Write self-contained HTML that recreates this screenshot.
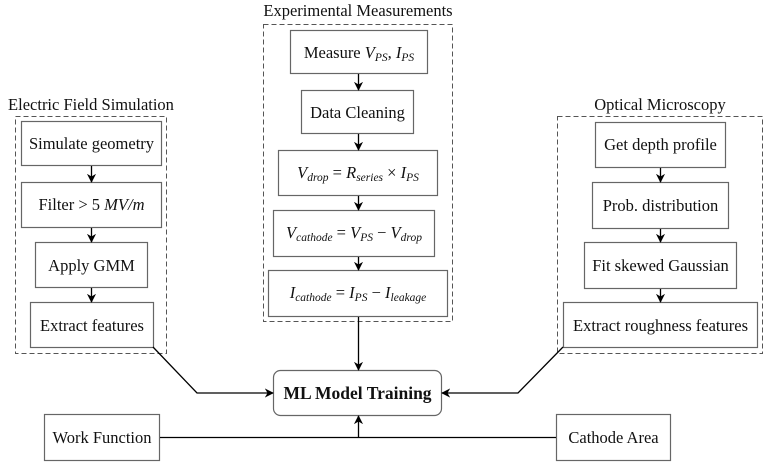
<!DOCTYPE html>
<html><head><style>body{margin:0;background:#fff}svg{display:block}text{font-family:"Liberation Serif",serif;font-size:16.5px;fill:#111}</style></head><body>
<svg width="768" height="467" viewBox="0 0 768 467" xmlns="http://www.w3.org/2000/svg">
<defs><marker id="a" viewBox="0 0 10 10" refX="9" refY="5" markerWidth="7" markerHeight="7" orient="auto"><path d="M0,0 L10,5 L0,10 L3,5z" fill="#000"/></marker></defs>
<g fill="none" stroke="#555" stroke-dasharray="5,3" stroke-width="1">
<rect x="15.5" y="116.5" width="151" height="237"/>
<rect x="263.5" y="24.5" width="189" height="297"/>
<rect x="557.5" y="116.5" width="205" height="237"/>
</g>
<text x="91" y="110" text-anchor="middle">Electric Field Simulation</text>
<text x="358" y="16" text-anchor="middle">Experimental Measurements</text>
<text x="660" y="110" text-anchor="middle">Optical Microscopy</text>
<g fill="#fff" stroke="#666" stroke-width="1.2">
<rect x="21.5" y="121.5" width="140" height="44"/>
<rect x="21.5" y="182.5" width="140" height="45"/>
<rect x="35.5" y="242.5" width="112" height="45"/>
<rect x="30.5" y="302.5" width="123" height="45"/>
<rect x="290.5" y="30.5" width="137" height="43"/>
<rect x="301.5" y="90.5" width="112" height="43"/>
<rect x="278.5" y="150.5" width="159" height="45"/>
<rect x="273.5" y="210.5" width="161" height="46"/>
<rect x="268.5" y="270.5" width="179" height="46"/>
<rect x="595.5" y="122.5" width="130" height="45"/>
<rect x="592.5" y="182.5" width="136" height="46"/>
<rect x="584.5" y="242.5" width="152" height="46"/>
<rect x="563.5" y="302.5" width="194" height="45"/>
<rect x="273.5" y="370.5" width="168" height="45" rx="7"/>
<rect x="44.5" y="414.5" width="115" height="46"/>
<rect x="556.5" y="414.5" width="114" height="46"/>
</g>
<g stroke="#000" stroke-width="1.3" fill="none" marker-end="url(#a)">
<line x1="91.5" y1="166" x2="91.5" y2="182"/>
<line x1="91.5" y1="228" x2="91.5" y2="242"/>
<line x1="91.5" y1="288" x2="91.5" y2="302"/>
<line x1="358.5" y1="74" x2="358.5" y2="90"/>
<line x1="358.5" y1="134" x2="358.5" y2="150"/>
<line x1="358.5" y1="196" x2="358.5" y2="210"/>
<line x1="358.5" y1="257" x2="358.5" y2="270"/>
<line x1="358.5" y1="317" x2="358.5" y2="370"/>
<line x1="660.5" y1="168" x2="660.5" y2="182"/>
<line x1="660.5" y1="229" x2="660.5" y2="242"/>
<line x1="660.5" y1="289" x2="660.5" y2="302"/>
<polyline points="153,347 197,393 273,393"/>
<polyline points="563,347 518,393 442,393"/>
<line x1="358.5" y1="437.5" x2="358.5" y2="416"/>
</g>
<line x1="160" y1="437.5" x2="556" y2="437.5" stroke="#000" stroke-width="1.3"/>
<text x="91.5" y="149" text-anchor="middle">Simulate geometry</text>
<text x="91.5" y="210" text-anchor="middle">Filter &gt;  5 <tspan font-style="italic">MV/m</tspan></text>
<text x="91.5" y="271" text-anchor="middle">Apply GMM</text>
<text x="92" y="331" text-anchor="middle">Extract features</text>
<text x="359" y="58" text-anchor="middle">Measure <tspan font-style="italic">V</tspan><tspan font-style="italic" font-size="11.5" dy="3">PS</tspan><tspan dy="-3">, </tspan><tspan font-style="italic">I</tspan><tspan font-style="italic" font-size="11.5" dy="3">PS</tspan></text>
<text x="357.5" y="118" text-anchor="middle">Data Cleaning</text>
<text x="358" y="178" text-anchor="middle"><tspan font-style="italic">V</tspan><tspan font-style="italic" font-size="11.5" dy="3">drop</tspan><tspan dy="-3"> = </tspan><tspan font-style="italic">R</tspan><tspan font-style="italic" font-size="11.5" dy="3">series</tspan><tspan dy="-3"> × </tspan><tspan font-style="italic">I</tspan><tspan font-style="italic" font-size="11.5" dy="3">PS</tspan></text>
<text x="354" y="238" text-anchor="middle"><tspan font-style="italic">V</tspan><tspan font-style="italic" font-size="11.5" dy="3">cathode</tspan><tspan dy="-3"> = </tspan><tspan font-style="italic">V</tspan><tspan font-style="italic" font-size="11.5" dy="3">PS</tspan><tspan dy="-3"> − </tspan><tspan font-style="italic">V</tspan><tspan font-style="italic" font-size="11.5" dy="3">drop</tspan></text>
<text x="358" y="298" text-anchor="middle"><tspan font-style="italic">I</tspan><tspan font-style="italic" font-size="11.5" dy="3">cathode</tspan><tspan dy="-3"> = </tspan><tspan font-style="italic">I</tspan><tspan font-style="italic" font-size="11.5" dy="3">PS</tspan><tspan dy="-3"> − </tspan><tspan font-style="italic">I</tspan><tspan font-style="italic" font-size="11.5" dy="3">leakage</tspan></text>
<text x="660.5" y="150" text-anchor="middle">Get depth profile</text>
<text x="660.5" y="211" text-anchor="middle">Prob. distribution</text>
<text x="660.5" y="271" text-anchor="middle">Fit skewed Gaussian</text>
<text x="660.5" y="331" text-anchor="middle">Extract roughness features</text>
<text x="357.5" y="399" text-anchor="middle" font-weight="bold" style="font-size:17.5px">ML Model Training</text>
<text x="102" y="443" text-anchor="middle">Work Function</text>
<text x="613.5" y="443" text-anchor="middle">Cathode Area</text>
</svg>
</body></html>
